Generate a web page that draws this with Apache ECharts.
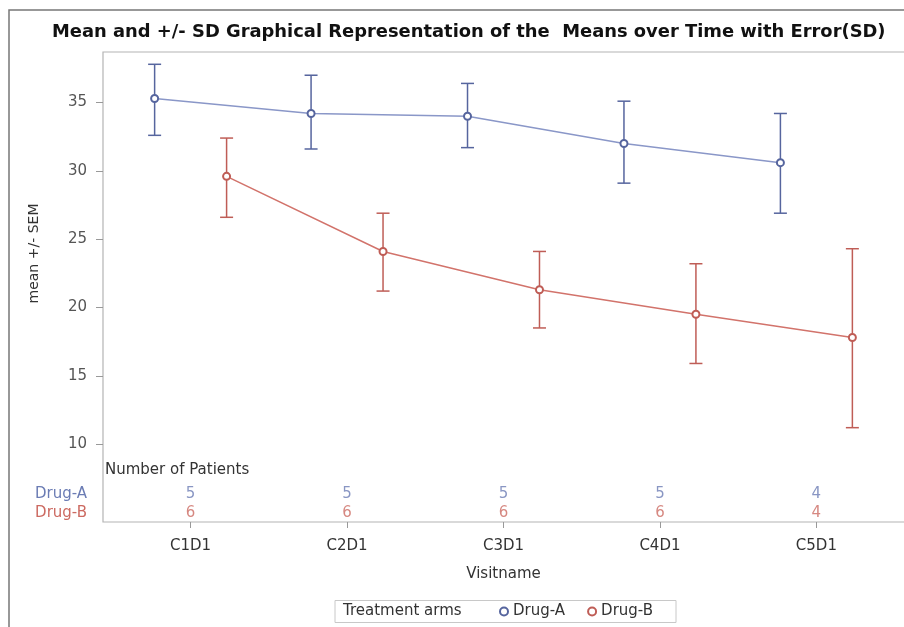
<!DOCTYPE html>
<html><head><meta charset="utf-8">
<script src="https://cdn.jsdelivr.net/npm/echarts@6/dist/echarts.min.js"></script>
<style>html,body{margin:0;padding:0;background:#fff}#c{width:904px;height:627px}</style>
</head><body><div id="c"></div>
<script>
// ---- data ----
const categories = ['C1D1', 'C2D1', 'C3D1', 'C4D1', 'C5D1'];
const arms = ['Drug-A', 'Drug-B'];
const meanA = [35.3, 34.2, 34.0, 32.0, 30.6];
const lowA  = [32.6, 31.6, 31.7, 29.1, 26.9];
const highA = [37.8, 37.0, 36.4, 35.1, 34.2];
const meanB = [29.6, 24.1, 21.3, 19.5, 17.8];
const lowB  = [26.6, 21.2, 18.5, 15.9, 11.2];
const highB = [32.4, 26.9, 24.1, 23.2, 24.3];
const patientsA = [5, 5, 5, 5, 4];
const patientsB = [6, 6, 6, 6, 4];
const yTicks = [10, 15, 20, 25, 30, 35];

// ---- styling ----
const FONT = 'DejaVu Sans';
const blue = '#56659e', blueLine = '#8a97c8', blueText = '#6b7cb4';
const red = '#bf5d56', redLine = '#d2736b', redText = '#cc6a61';
const dodge = 0.23;
const xIdx = categories.map((c, i) => i);

function errBar(color) {
  return function (params, api) {
    const x = api.value(0), lo = api.value(1), hi = api.value(2);
    const p1 = api.coord([x, lo]), p2 = api.coord([x, hi]);
    const w = 6.5;
    const style = { stroke: color, lineWidth: 1.5 };
    return { type: 'group', children: [
      { type: 'line', shape: { x1: p1[0], y1: p1[1], x2: p2[0], y2: p2[1] }, style },
      { type: 'line', shape: { x1: p1[0] - w, y1: p1[1], x2: p1[0] + w, y2: p1[1] }, style },
      { type: 'line', shape: { x1: p2[0] - w, y1: p2[1], x2: p2[0] + w, y2: p2[1] }, style }
    ]};
  };
}

const chart = echarts.init(document.getElementById('c'), null, { renderer: 'canvas' });
chart.setOption({
  animation: false,
  backgroundColor: '#fff',
  textStyle: { fontFamily: FONT },
  title: {
    text: 'Mean and +/- SD Graphical Representation of the  Means over Time with Error(SD)',
    left: 52, top: 23, padding: 0,
    textStyle: { fontFamily: FONT, fontSize: 17.9, fontWeight: 'bold', color: '#111' }
  },
  grid: [
    { left: 103, right: -3, top: 52, bottom: 172 },
    { left: 103, right: -3, top: 494, bottom: 114 }
  ],
  xAxis: [
    { type: 'value', gridIndex: 0, min: -0.56, max: 4.56, show: false, axisLine: { onZero: false } },
    { type: 'value', gridIndex: 1, min: -0.56, max: 4.56, offset: 9,
      name: 'Visitname', nameLocation: 'middle', nameGap: 45,
      nameTextStyle: { fontFamily: FONT, fontSize: 15, color: '#333' },
      axisLine: { show: false, onZero: false },
      splitLine: { show: false },
      axisTick: { show: true, length: 6, customValues: xIdx, lineStyle: { color: '#999' } },
      axisLabel: { customValues: xIdx, margin: 17, fontSize: 15, color: '#333', fontFamily: FONT,
        formatter: v => categories[Math.round(v)] }
    }
  ],
  yAxis: [
    { type: 'value', gridIndex: 0, min: 9.2, max: 38.7,
      name: 'mean +/- SEM', nameLocation: 'middle', nameGap: 62,
      nameTextStyle: { fontFamily: FONT, fontSize: 14, color: '#333' },
      axisLine: { show: false, onZero: false }, splitLine: { show: false },
      axisTick: { show: true, length: 7, customValues: yTicks, lineStyle: { color: '#999' } },
      axisLabel: { customValues: yTicks, margin: 16, fontSize: 15, color: '#555', fontFamily: FONT }
    },
    { type: 'category', gridIndex: 1, data: arms, inverse: true, boundaryGap: false,
      axisLine: { show: false, onZero: false }, axisTick: { show: false }, splitLine: { show: false },
      axisLabel: { interval: 0, hideOverlap: false, margin: 16, fontSize: 15, fontFamily: FONT,
        formatter: v => '{' + (v === arms[0] ? 'a' : 'b') + '|' + v + '}',
        rich: { a: { color: blueText, fontSize: 15, fontFamily: FONT }, b: { color: redText, fontSize: 15, fontFamily: FONT } } }
    }
  ],
  legend: {
    data: arms, left: 499, top: 604, padding: 0, itemGap: 22,
    icon: 'emptyCircle', itemWidth: 8, itemHeight: 8,
    textStyle: { fontFamily: FONT, fontSize: 15, color: '#333' }
  },
  graphic: [
    { type: 'rect', shape: { x: 9, y: 10, width: 920, height: 640 }, style: { fill: 'none', stroke: '#777', lineWidth: 1.5 }, z: 0, silent: true },
    { type: 'rect', shape: { x: 103, y: 52, width: 820, height: 470 }, style: { fill: 'none', stroke: '#b4b4b4', lineWidth: 1.2 }, z: 0, silent: true },
    { type: 'rect', shape: { x: 335, y: 600.5, width: 341, height: 22 }, style: { fill: 'none', stroke: '#c8c8c8', lineWidth: 1 }, z: 0, silent: true },
    { type: 'text', x: 343, y: 611.5, style: { text: 'Treatment arms', font: '15px "DejaVu Sans"', fill: '#333', textVerticalAlign: 'middle' } },
    { type: 'text', x: 105, y: 470, style: { text: 'Number of Patients', font: '15px "DejaVu Sans"', fill: '#333', textVerticalAlign: 'middle' } }
  ],
  series: [
    { name: arms[0], type: 'line', xAxisIndex: 0, yAxisIndex: 0, z: 4,
      data: meanA.map((v, i) => [i - dodge, v]),
      symbol: 'emptyCircle', symbolSize: 7,
      lineStyle: { color: blueLine, width: 1.5 },
      itemStyle: { color: blue, borderColor: blue, borderWidth: 1.5 } },
    { name: arms[1], type: 'line', xAxisIndex: 0, yAxisIndex: 0, z: 4,
      data: meanB.map((v, i) => [i + dodge, v]),
      symbol: 'emptyCircle', symbolSize: 7,
      lineStyle: { color: redLine, width: 1.5 },
      itemStyle: { color: red, borderColor: red, borderWidth: 1.5 } },
    { name: 'errA', type: 'custom', xAxisIndex: 0, yAxisIndex: 0, z: 3,
      encode: { x: 0, y: [1, 2] },
      data: lowA.map((lo, i) => [i - dodge, lo, highA[i]]),
      renderItem: errBar(blue) },
    { name: 'errB', type: 'custom', xAxisIndex: 0, yAxisIndex: 0, z: 3,
      encode: { x: 0, y: [1, 2] },
      data: lowB.map((lo, i) => [i + dodge, lo, highB[i]]),
      renderItem: errBar(red) },
    { name: 'nA', type: 'scatter', xAxisIndex: 1, yAxisIndex: 1, symbolSize: 0,
      data: patientsA.map((n, i) => [i, arms[0], n]),
      label: { show: true, position: 'inside', formatter: p => p.value[2], color: blueText, fontSize: 15, fontFamily: FONT } },
    { name: 'nB', type: 'scatter', xAxisIndex: 1, yAxisIndex: 1, symbolSize: 0,
      data: patientsB.map((n, i) => [i, arms[1], n]),
      label: { show: true, position: 'inside', formatter: p => p.value[2], color: redText, fontSize: 15, fontFamily: FONT } }
  ]
});
</script></body></html>
